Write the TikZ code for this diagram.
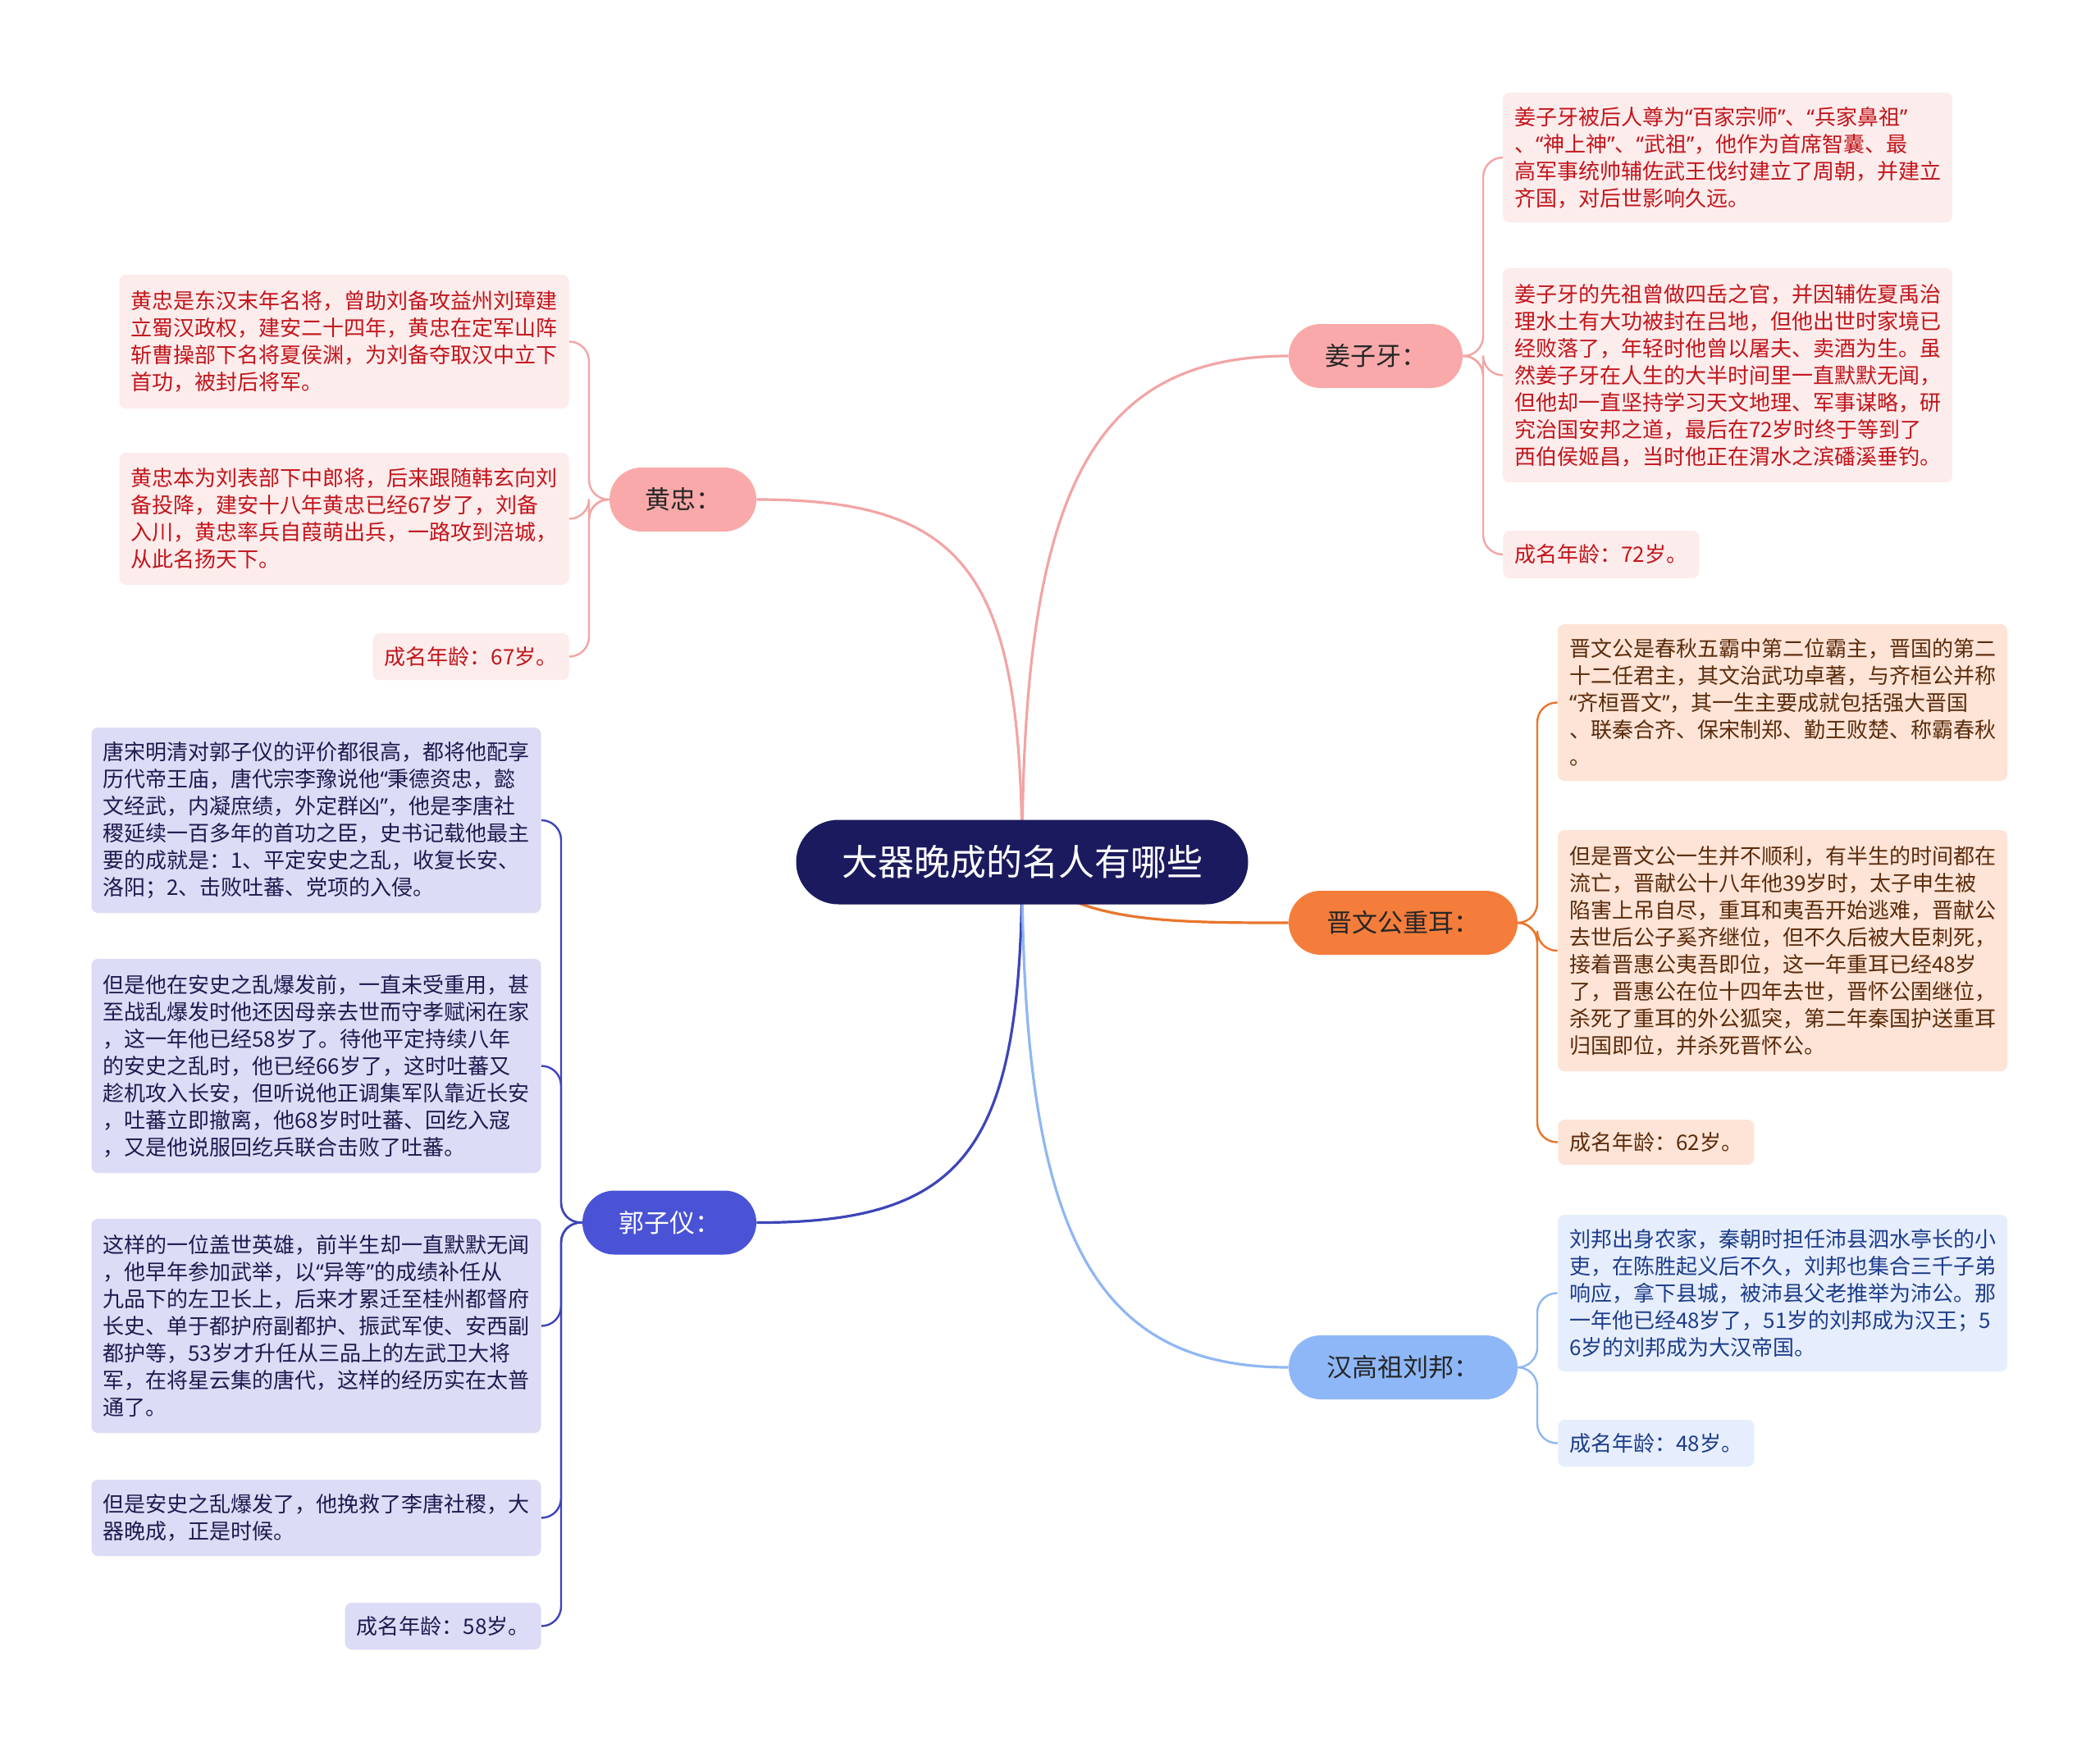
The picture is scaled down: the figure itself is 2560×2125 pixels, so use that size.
\documentclass[tikz,border=0pt]{standalone}
\usepackage{fontspec}
\setmainfont{Noto Sans CJK SC}
\newfontfamily\qfont{Noto Sans}
\newcommand\myql{{\qfont “}}
\newcommand\myqr{{\qfont ”}}
\usetikzlibrary{backgrounds}
\definecolor{navy}{HTML}{1C1A5E}
\definecolor{pinkfill}{HTML}{F9A9A9}
\definecolor{pinkline}{HTML}{F2A5A5}
\definecolor{pinkbg}{HTML}{FDECEC}
\definecolor{pinktext}{HTML}{C2151B}
\definecolor{orgfill}{HTML}{F47D3C}
\definecolor{orgline}{HTML}{E8762D}
\definecolor{orgbg}{HTML}{FDE4D6}
\definecolor{orgtext}{HTML}{5B2B0B}
\definecolor{dbfill}{HTML}{4A52D6}
\definecolor{dbline}{HTML}{3D45B8}
\definecolor{dbbg}{HTML}{DCDCF6}
\definecolor{dbtext}{HTML}{1D1B4F}
\definecolor{lbfill}{HTML}{8EB7F7}
\definecolor{lbline}{HTML}{8FB7F2}
\definecolor{lbbg}{HTML}{E6EEFD}
\definecolor{lbtext}{HTML}{1D3C8A}
\tikzset{
  leaf/.style={rounded corners=4pt, inner xsep=7pt, inner ysep=0pt, align=left,
    font=\fontsize{13pt}{16.5pt}\selectfont},
  leafw/.style={leaf, text width=260pt, minimum width=274pt},
  pinkleaf/.style={fill=pinkbg, text=pinktext},
  orgleaf/.style={fill=orgbg, text=orgtext},
  dbleaf/.style={fill=dbbg, text=dbtext},
  lbleaf/.style={fill=lbbg, text=lbtext},
  branch/.style={rounded corners=19.5pt, minimum height=39pt, inner xsep=0pt,
    font=\fontsize{15.5pt}{18pt}\selectfont},
  mainline/.style={line width=1.6pt},
  subline/.style={line width=1.2pt, rounded corners=12pt},
}
\begin{document}
\begin{tikzpicture}[x=0.5pt,y=-0.5pt]
\useasboundingbox (0,0) rectangle (2560,2125);

% root
\node[fill=navy, text=white, rounded corners=25.75pt, minimum width=275.5pt, minimum height=51.5pt,
  font=\fontsize{22pt}{26pt}\selectfont] (root) at (1246,1051) {大器晚成的名人有哪些};

% branches
\node[branch, fill=pinkfill, text=black!85, minimum width=106pt] (jz) at (1677,434) {姜子牙：};
\node[branch, fill=pinkfill, text=black!85, minimum width=89.5pt] (hz) at (832.5,609) {黄忠：};
\node[branch, fill=orgfill, text=black!85, minimum width=139.5pt] (jw) at (1710.5,1125) {晋文公重耳：};
\node[branch, fill=dbfill, text=white, minimum width=106pt] (gz) at (816,1490.5) {郭子仪：};
\node[branch, fill=lbfill, text=black!85, minimum width=139.5pt] (lb) at (1710.5,1667) {汉高祖刘邦：};

% 姜子牙 leaves
\node[leafw, pinkleaf, minimum height=79pt] (jz1) at (2106,192) {姜子牙被后人尊为\myql 百家宗师\myqr、\myql 兵家鼻祖\myqr\\、\myql 神上神\myqr、\myql 武祖\myqr，他作为首席智囊、最\\高军事统帅辅佐武王伐纣建立了周朝，并建立\\齐国，对后世影响久远。};
\node[leafw, pinkleaf, minimum height=130.5pt] (jz2) at (2106,457.5) {姜子牙的先祖曾做四岳之官，并因辅佐夏禹治\\理水土有大功被封在吕地，但他出世时家境已\\经败落了，年轻时他曾以屠夫、卖酒为生。虽\\然姜子牙在人生的大半时间里一直默默无闻，\\但他却一直坚持学习天文地理、军事谋略，研\\究治国安邦之道，最后在72岁时终于等到了\\西伯侯姬昌，当时他正在渭水之滨磻溪垂钓。};
\node[leaf, pinkleaf, minimum height=29pt, anchor=west] (jz3) at (1832,676) {成名年龄：72岁。};

% 晋文公 leaves
\node[leafw, orgleaf, minimum height=95.5pt] (jw1) at (2173,856.5) {晋文公是春秋五霸中第二位霸主，晋国的第二\\十二任君主，其文治武功卓著，与齐桓公并称\\\myql 齐桓晋文\myqr，其一生主要成就包括强大晋国\\、联秦合齐、保宋制郑、勤王败楚、称霸春秋\\。};
\node[leafw, orgleaf, minimum height=147pt] (jw2) at (2173,1159) {但是晋文公一生并不顺利，有半生的时间都在\\流亡，晋献公十八年他39岁时，太子申生被\\陷害上吊自尽，重耳和夷吾开始逃难，晋献公\\去世后公子奚齐继位，但不久后被大臣刺死，\\接着晋惠公夷吾即位，这一年重耳已经48岁\\了，晋惠公在位十四年去世，晋怀公圉继位，\\杀死了重耳的外公狐突，第二年秦国护送重耳\\归国即位，并杀死晋怀公。};
\node[leaf, orgleaf, minimum height=27.5pt, anchor=west] (jw3) at (1899,1392.5) {成名年龄：62岁。};

% 刘邦 leaves
\node[leafw, lbleaf, minimum height=95.5pt] (lb1) at (2173,1576.5) {刘邦出身农家，秦朝时担任沛县泗水亭长的小\\吏，在陈胜起义后不久，刘邦也集合三千子弟\\响应，拿下县城，被沛县父老推举为沛公。那\\一年他已经48岁了，51岁的刘邦成为汉王；5\\6岁的刘邦成为大汉帝国。};
\node[leaf, lbleaf, minimum height=28.5pt, anchor=west] (lb2) at (1899,1759.5) {成名年龄：48岁。};

% 黄忠 leaves
\node[leafw, pinkleaf, minimum height=81.5pt] (hz1) at (419.5,416.5) {黄忠是东汉末年名将，曾助刘备攻益州刘璋建\\立蜀汉政权，建安二十四年，黄忠在定军山阵\\斩曹操部下名将夏侯渊，为刘备夺取汉中立下\\首功，被封后将军。};
\node[leafw, pinkleaf, minimum height=80.5pt] (hz2) at (419.5,632.5) {黄忠本为刘表部下中郎将，后来跟随韩玄向刘\\备投降，建安十八年黄忠已经67岁了，刘备\\入川，黄忠率兵自葭萌出兵，一路攻到涪城，\\从此名扬天下。};
\node[leaf, pinkleaf, minimum height=28.5pt, anchor=east] (hz3) at (694,800.5) {成名年龄：67岁。};

% 郭子仪 leaves
\node[leafw, dbleaf, minimum height=113pt] (gz1) at (385.5,1000) {唐宋明清对郭子仪的评价都很高，都将他配享\\历代帝王庙，唐代宗李豫说他\myql 秉德资忠，懿\\文经武，内凝庶绩，外定群凶\myqr，他是李唐社\\稷延续一百多年的首功之臣，史书记载他最主\\要的成就是：1、平定安史之乱，收复长安、\\洛阳；2、击败吐蕃、党项的入侵。};
\node[leafw, dbleaf, minimum height=130.5pt] (gz2) at (385.5,1299.5) {但是他在安史之乱爆发前，一直未受重用，甚\\至战乱爆发时他还因母亲去世而守孝赋闲在家\\，这一年他已经58岁了。待他平定持续八年\\的安史之乱时，他已经66岁了，这时吐蕃又\\趁机攻入长安，但听说他正调集军队靠近长安\\，吐蕃立即撤离，他68岁时吐蕃、回纥入寇\\，又是他说服回纥兵联合击败了吐蕃。};
\node[leafw, dbleaf, minimum height=130.5pt] (gz3) at (385.5,1616.5) {这样的一位盖世英雄，前半生却一直默默无闻\\，他早年参加武举，以\myql 异等\myqr 的成绩补任从\\九品下的左卫长上，后来才累迁至桂州都督府\\长史、单于都护府副都护、振武军使、安西副\\都护等，53岁才升任从三品上的左武卫大将\\军，在将星云集的唐代，这样的经历实在太普\\通了。};
\node[leafw, dbleaf, minimum height=46.5pt] (gz4) at (385.5,1850.5) {但是安史之乱爆发了，他挽救了李唐社稷，大\\器晚成，正是时候。};
\node[leaf, dbleaf, minimum height=28.5pt, anchor=east] (gz5) at (660,1982.5) {成名年龄：58岁。};

\begin{scope}[on background layer]
\fill[white] (0,0) rectangle (2560,2125);
% main connectors
\draw[mainline, pinkline] (root.center) .. controls (1246,600) and (1330,434) .. (jz.west);
\draw[mainline, pinkline] (root.center) .. controls (1246,700) and (1180,609) .. (hz.east);
\draw[mainline, orgline] (root.center) .. controls (1300,1125) and (1420,1125) .. (jw.west);
\draw[mainline, dbline] (root.center) .. controls (1246,1400) and (1180,1491) .. (gz.east);
\draw[mainline, lbline] (root.center) .. controls (1246,1500) and (1330,1667) .. (lb.west);
% sub connectors
\draw[subline, pinkline] (jz.east) -- (1808,434) |- (jz1.west);
\draw[subline, pinkline] (jz.east) -- (1808,434) |- (jz2.west);
\draw[subline, pinkline] (jz.east) -- (1808,434) |- (jz3.west);
\draw[subline, orgline] (jw.east) -- (1874,1125) |- (jw1.west);
\draw[subline, orgline] (jw.east) -- (1874,1125) |- (jw2.west);
\draw[subline, orgline] (jw.east) -- (1874,1125) |- (jw3.west);
\draw[subline, lbline] (lb.east) -- (1874,1667) |- (lb1.west);
\draw[subline, lbline] (lb.east) -- (1874,1667) |- (lb2.west);
\draw[subline, pinkline] (hz.west) -- (718,609) |- (hz1.east);
\draw[subline, pinkline] (hz.west) -- (718,609) |- (hz2.east);
\draw[subline, pinkline] (hz.west) -- (718,609) |- (hz3.east);
\draw[subline, dbline] (gz.west) -- (684,1490.5) |- (gz1.east);
\draw[subline, dbline] (gz.west) -- (684,1490.5) |- (gz2.east);
\draw[subline, dbline] (gz.west) -- (684,1490.5) |- (gz3.east);
\draw[subline, dbline] (gz.west) -- (684,1490.5) |- (gz4.east);
\draw[subline, dbline] (gz.west) -- (684,1490.5) |- (gz5.east);
\end{scope}
\end{tikzpicture}
\end{document}
